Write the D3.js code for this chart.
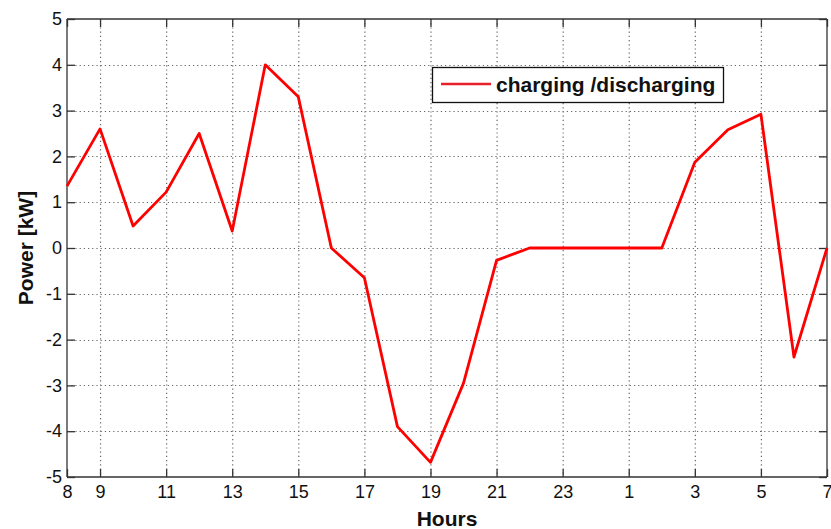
<!DOCTYPE html>
<html><head><meta charset="utf-8">
<script src="https://cdn.jsdelivr.net/npm/d3@7"></script>
<style>body{margin:0;background:#fff}svg{display:block}</style>
</head><body><svg id="c" width="831" height="529"></svg>
<script>
const hours = [8,9,10,11,12,13,14,15,16,17,18,19,20,21,22,23,0,1,2,3,4,5,6,7];
const power = [1.35,2.6,0.48,1.22,2.5,0.37,4.0,3.3,0.0,-0.65,-3.9,-4.68,-2.95,-0.27,0,0,0,0,0,1.87,2.58,2.92,-2.38,0];
const xTickIdx = [0,1,3,5,7,9,11,13,15,17,19,21,23];
const yTicks = [-5,-4,-3,-2,-1,0,1,2,3,4,5];
const seriesName = "charging /discharging";
const xLabel = "Hours", yLabel = "Power [kW]";

const svg = d3.select("#c");
const L=67,R=827,T=19,B=477;
const x = d3.scaleLinear().domain([0,23]).range([L,R]);
const y = d3.scaleLinear().domain([-5,5]).range([B,T]);
const font = "Liberation Sans, Arial, sans-serif";

// grid
const g = svg.append("g");
g.selectAll(".gx").data(xTickIdx.slice(1,-1)).enter().append("line")
 .attr("x1",d=>x(d)+0.5).attr("x2",d=>x(d)+0.5).attr("y1",T).attr("y2",B)
 .attr("stroke","#666").attr("stroke-dasharray","1.2,3").attr("stroke-width",1.2);
g.selectAll(".gy").data(yTicks.slice(1,-1)).enter().append("line")
 .attr("y1",d=>Math.round(y(d))+0.5).attr("y2",d=>Math.round(y(d))+0.5).attr("x1",L).attr("x2",R)
 .attr("stroke","#666").attr("stroke-dasharray","1.2,3").attr("stroke-width",1.2);

// axes
const xAxB = d3.axisBottom(x).tickValues(xTickIdx).tickSize(-8).tickPadding(8).tickFormat(i=>String(hours[i]));
const xAxT = d3.axisTop(x).tickValues(xTickIdx).tickSize(-8).tickFormat("");
const yAxL = d3.axisLeft(y).tickValues(yTicks).tickSize(-8).tickPadding(5).tickFormat(d=>String(d));
const yAxR = d3.axisRight(y).tickValues(yTicks).tickSize(-8).tickFormat("");
function style(sel){ sel.selectAll("path").attr("stroke","#333").attr("stroke-width",1.3);
  sel.selectAll(".tick line").attr("stroke","#333").attr("stroke-width",1.3);
  sel.selectAll("text").attr("font-family",font).attr("font-size",18).attr("fill","#111"); }
svg.append("g").attr("transform",`translate(0,${B})`).call(xAxB).call(style).call(s=>s.selectAll("path").attr("d",`M${L},0H${R}`));
svg.append("g").attr("transform",`translate(0,${T})`).call(xAxT).call(style).call(s=>s.selectAll("path").attr("d",`M${L},0H${R}`));
svg.append("g").attr("transform",`translate(${L},0)`).call(yAxL).call(style).call(s=>s.selectAll("path").attr("d",`M0,${T}V${B}`));
svg.append("g").attr("transform",`translate(${R},0)`).call(yAxR).call(style).call(s=>s.selectAll("path").attr("d",`M0,${T}V${B}`));

// line
const line = d3.line().x((d,i)=>x(i)).y(d=>y(d));
svg.append("path").datum(power).attr("d",line).attr("fill","none")
 .attr("stroke","#ff0000").attr("stroke-width",2.8).attr("stroke-linejoin","round");

// legend
const lg = svg.append("g");
lg.append("rect").attr("x",432.5).attr("y",67.5).attr("width",291).attr("height",35)
 .attr("fill","#fff").attr("stroke","#111").attr("stroke-width",1.3);
lg.append("line").attr("x1",441).attr("x2",491).attr("y1",84).attr("y2",84).attr("stroke","#e8202a").attr("stroke-width",2.6);
lg.append("text").attr("x",496).attr("y",91.5).text(seriesName)
 .attr("font-family",font).attr("font-size",21).attr("font-weight","bold").attr("fill","#111");

// labels
svg.append("text").attr("x",(L+R)/2).attr("y",526).attr("text-anchor","middle").text(xLabel)
 .attr("font-family",font).attr("font-size",21).attr("font-weight","bold").attr("fill","#111");
svg.append("text").attr("transform","translate(33,248) rotate(-90)").attr("text-anchor","middle").text(yLabel)
 .attr("font-family",font).attr("font-size",21).attr("font-weight","bold").attr("fill","#111");
</script></body></html>
